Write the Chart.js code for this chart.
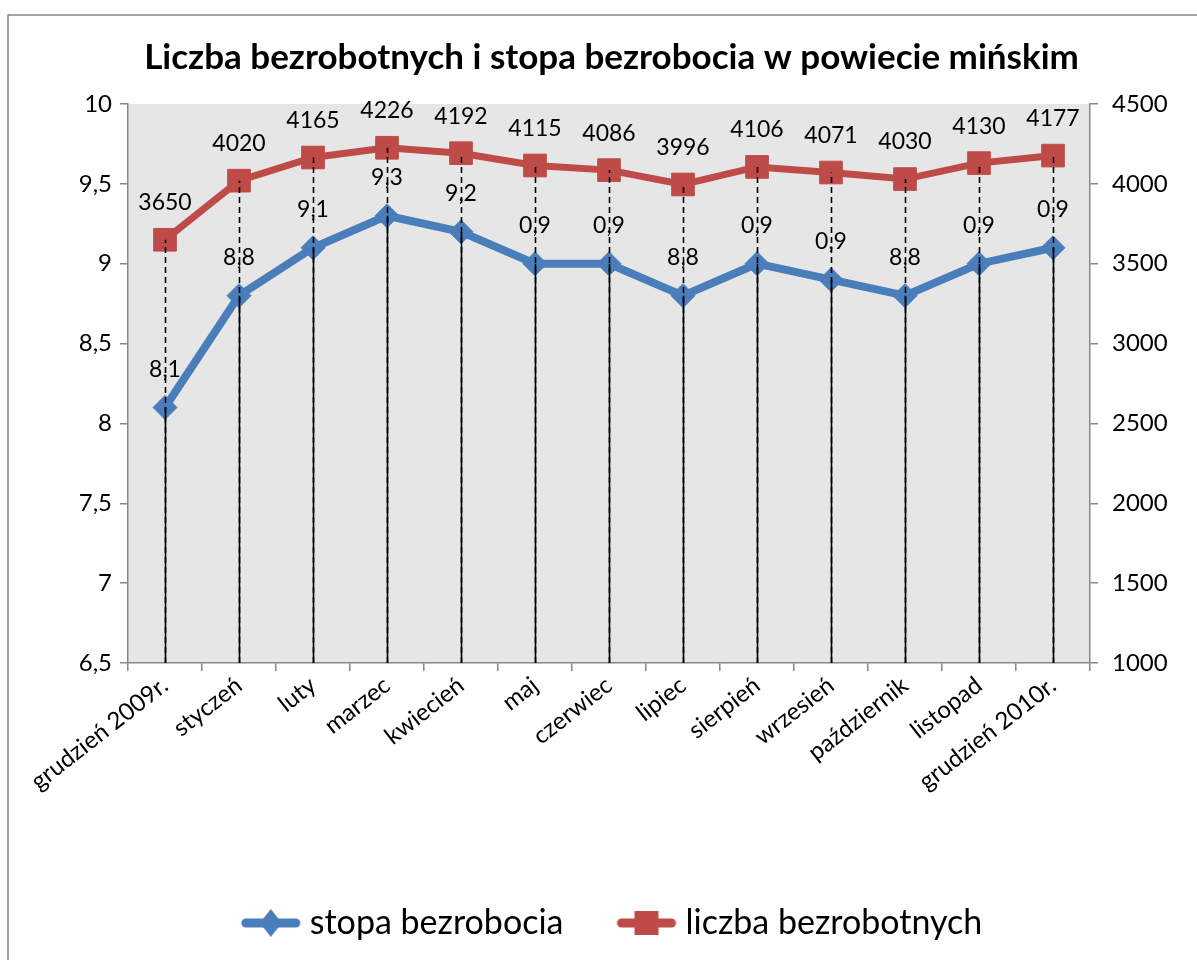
<!DOCTYPE html>
<html>
<head>
<meta charset="utf-8">
<script src="https://cdn.jsdelivr.net/npm/chart.js@4.4.1/dist/chart.umd.min.js"></script>
<style>
html,body{margin:0;padding:0;background:#fff;}
#wrap{width:1197px;height:960px;position:relative;}
</style>
</head>
<body>
<div id="wrap"><canvas id="c" width="1197" height="960"></canvas></div>
<script>
const categories = ['grudzień 2009r.', 'styczeń', 'luty', 'marzec', 'kwiecień', 'maj', 'czerwiec', 'lipiec', 'sierpień', 'wrzesień', 'październik', 'listopad', 'grudzień 2010r.'];
const unemploymentRate = [8.1, 8.8, 9.1, 9.3, 9.2, 9.0, 9.0, 8.8, 9.0, 8.9, 8.8, 9.0, 9.1];
const rateLabels = ['8,1', '8,8', '9,1', '9,3', '9,2', '0,9', '0,9', '8,8', '0,9', '0,9', '8,8', '0,9', '0,9'];
const unemployedCount = [3650, 4020, 4165, 4226, 4192, 4115, 4086, 3996, 4106, 4071, 4030, 4130, 4177];
const countLabels = ['3650', '4020', '4165', '4226', '4192', '4115', '4086', '3996', '4106', '4071', '4030', '4130', '4177'];
const leftTickValues = [6.5, 7, 7.5, 8, 8.5, 9, 9.5, 10];
const leftTickLabels = ['6,5', '7', '7,5', '8', '8,5', '9', '9,5', '10'];
const rightTickValues = [1000, 1500, 2000, 2500, 3000, 3500, 4000, 4500];
const rightTickLabels = ['1000', '1500', '2000', '2500', '3000', '3500', '4000', '4500'];
const seriesNames = ['stopa bezrobocia', 'liczba bezrobotnych'];
const titleText = 'Liczba bezrobotnych i stopa bezrobocia w powiecie mińskim';

const BLUE = '#4A7EBB';
const RED = '#BE4B48';
const AXIS = '#868686';
const FONT = 'Lato, "Open Sans", sans-serif';

function legendImage(color, shape) {
  const c = document.createElement('canvas');
  c.width = 124; c.height = 30;
  const g = c.getContext('2d');
  const a = 60;
  g.strokeStyle = color; g.lineWidth = 9; g.lineCap = 'round';
  g.beginPath(); g.moveTo(a + 5, 15); g.lineTo(a + 55, 15); g.stroke();
  g.fillStyle = color;
  g.beginPath();
  const cx = a + 30;
  if (shape === 'diamond') {
    g.moveTo(cx, 1); g.lineTo(cx + 11, 15); g.lineTo(cx, 29); g.lineTo(cx - 11, 15);
  } else {
    g.rect(cx - 12, 3, 24, 24);
  }
  g.closePath(); g.fill();
  return c;
}
const legendImgs = [legendImage(BLUE, 'diamond'), legendImage(RED, 'square')];

const framePlugin = {
  id: 'frame',
  afterLayout(chart) {
    if (chart.legend) { chart.legend.left -= 24; chart.legend.right -= 24; }
  },
  beforeDraw(chart) {
    const { ctx, chartArea: a } = chart;
    ctx.save();
    ctx.fillStyle = '#fff';
    ctx.fillRect(0, 0, chart.width, chart.height);
    ctx.strokeStyle = AXIS; ctx.lineWidth = 1.5;
    ctx.beginPath();
    ctx.moveTo(8, 960); ctx.lineTo(8, 15); ctx.lineTo(1197, 15);
    ctx.stroke();
    ctx.fillStyle = '#E6E6E6';
    ctx.fillRect(a.left, a.top, a.right - a.left, a.bottom - a.top);
    ctx.restore();
  }
};

const dropLinesPlugin = {
  id: 'dropLines',
  afterDatasetsDraw(chart) {
    const { ctx } = chart;
    const x = chart.scales.x, yL = chart.scales.yL, yR = chart.scales.yR;
    const bottom = chart.chartArea.bottom;
    ctx.save();
    ctx.strokeStyle = '#000';
    ctx.lineWidth = 1.6;
    categories.forEach((c, i) => {
      const px = Math.round(x.getPixelForValue(i)) + 0.5;
      ctx.setLineDash([6, 4]);
      ctx.beginPath(); ctx.moveTo(px, bottom); ctx.lineTo(px, yR.getPixelForValue(unemployedCount[i])); ctx.stroke();
      ctx.setLineDash([]);
      ctx.beginPath(); ctx.moveTo(px, bottom); ctx.lineTo(px, yL.getPixelForValue(unemploymentRate[i])); ctx.stroke();
    });
    ctx.restore();
  },
  afterDraw(chart) {
    const { ctx } = chart;
    const x = chart.scales.x, yL = chart.scales.yL, yR = chart.scales.yR;
    ctx.save();
    ctx.fillStyle = '#000';
    ctx.font = '23px ' + FONT;
    ctx.textAlign = 'center';
    ctx.textBaseline = 'middle';
    categories.forEach((c, i) => {
      const px = x.getPixelForValue(i);
      ctx.fillText(rateLabels[i], px, yL.getPixelForValue(unemploymentRate[i]) - 38);
      ctx.fillText(countLabels[i], px, yR.getPixelForValue(unemployedCount[i]) - 37);
    });
    ctx.restore();
  }
};

const chart = new Chart(document.getElementById('c'), {
  type: 'line',
  data: {
    labels: categories,
    datasets: [
      {
        label: seriesNames[0], data: unemploymentRate, yAxisID: 'yL',
        borderColor: BLUE, backgroundColor: BLUE, borderWidth: 8,
        pointStyle: 'rectRot', pointRadius: 12, pointHoverRadius: 12,
        pointBackgroundColor: BLUE, pointBorderColor: BLUE, pointBorderWidth: 1,
        tension: 0, order: 1
      },
      {
        label: seriesNames[1], data: unemployedCount, yAxisID: 'yR',
        borderColor: RED, backgroundColor: RED, borderWidth: 7,
        pointStyle: 'rect', pointRadius: 16, pointHoverRadius: 16,
        pointBackgroundColor: RED, pointBorderColor: RED, pointBorderWidth: 1,
        tension: 0, order: 2
      }
    ]
  },
  options: {
    responsive: false,
    animation: false,
    layout: { padding: { left: 26, right: 0, top: 0, bottom: 10 } },
    plugins: {
      tooltip: { enabled: false },
      title: {
        display: true, text: titleText, color: '#000',
        font: { family: FONT, size: 35, weight: 'bold' },
        padding: { top: 37, bottom: 25 }
      },
      legend: {
        position: 'bottom',
        labels: {
          usePointStyle: true, pointStyleWidth: 100, padding: 5,
          color: '#000', font: { family: FONT, size: 34 },
          generateLabels(ch) {
            const items = Chart.defaults.plugins.legend.labels.generateLabels(ch);
            items.forEach((it) => { it.pointStyle = legendImgs[it.datasetIndex]; });
            return items;
          }
        }
      }
    },
    scales: {
      x: {
        type: 'category', offset: true,
        grid: { offset: true, drawOnChartArea: false, drawTicks: true, tickLength: 8, color: AXIS, lineWidth: 1.5 },
        border: { display: true, color: AXIS, width: 1.5 },
        ticks: { color: '#000', font: { family: FONT, size: 24 }, minRotation: 38, maxRotation: 38, autoSkip: false, padding: 0 },
        afterFit(s) { s.height = 238; }
      },
      yL: {
        type: 'linear', position: 'left', min: 6.5, max: 10,
        afterBuildTicks(s) { s.ticks = leftTickValues.map(v => ({ value: v })); },
        grid: { drawOnChartArea: false, tickLength: 8, color: AXIS, lineWidth: 1.5 },
        border: { display: true, color: AXIS, width: 1.5 },
        ticks: { color: '#000', font: { family: FONT, size: 24 }, padding: 8,
          callback(v) { const i = leftTickValues.indexOf(v); return i >= 0 ? leftTickLabels[i] : ''; } },
        afterFit(s) { s.width = 102; }
      },
      yR: {
        type: 'linear', position: 'right', min: 1000, max: 4500,
        afterBuildTicks(s) { s.ticks = rightTickValues.map(v => ({ value: v })); },
        grid: { drawOnChartArea: false, tickLength: 8, color: AXIS, lineWidth: 1.5 },
        border: { display: true, color: AXIS, width: 1.5 },
        ticks: { color: '#000', font: { family: FONT, size: 24 }, padding: 14,
          callback(v) { const i = rightTickValues.indexOf(v); return i >= 0 ? rightTickLabels[i] : ''; } },
        afterFit(s) { s.width = 107; }
      }
    }
  },
  plugins: [framePlugin, dropLinesPlugin]
});
</script>
</body>
</html>
